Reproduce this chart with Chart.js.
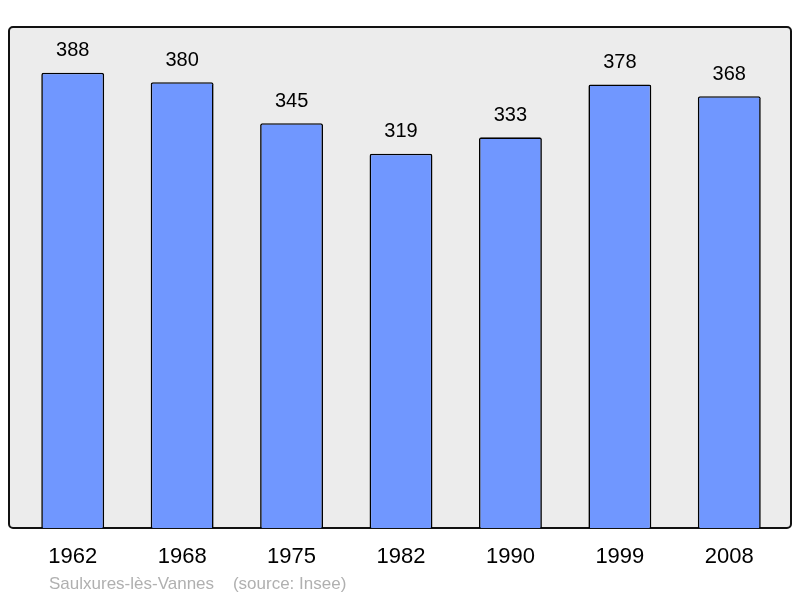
<!DOCTYPE html>
<html lang="fr">
<head>
    <meta charset="UTF-8">
    <title>Saulxures-lès-Vannes</title>
    <style>
        body {
            margin: 0;
            padding: 0;
            background: #fff;
            overflow: hidden;
        }
        #wrap {
            width: 800px;
            height: 598px;
        }
    </style>
</head>
<body>
    <div id="wrap"><canvas id="chart" width="800" height="598"></canvas></div>
    <script src="https://cdn.jsdelivr.net/npm/chart.js@4/dist/chart.umd.min.js"></script>
    <script>
        const years = ['1962', '1968', '1975', '1982', '1990', '1999', '2008'];
        const population = [388, 380, 345, 319, 333, 378, 368];
        const yMax = 427;
        const footer = 'Saulxures-lès-Vannes    (source: Insee)';

        const fontFamily = '"Liberation Sans", Arial, sans-serif';

        // grey frame behind the bars, then labels on top
        const frame = {
            id: 'frame',
            beforeDraw(chart) {
                const c = chart.ctx;
                const a = chart.chartArea;
                const x0 = 9, x1 = 791, y0 = a.top, y1 = a.bottom;
                c.save();
                c.beginPath();
                c.roundRect(x0, y0, x1 - x0, y1 - y0, 4);
                c.fillStyle = '#ececec';
                c.fill();
                c.lineWidth = 2;
                c.strokeStyle = '#111';
                c.stroke();
                c.restore();
            },
            afterDatasetsDraw(chart) {
                const c = chart.ctx;
                const a = chart.chartArea;
                const meta = chart.getDatasetMeta(0);
                c.save();
                c.textAlign = 'center';
                c.textBaseline = 'middle';
                c.fillStyle = '#000';
                c.font = '20px ' + fontFamily;
                meta.data.forEach((bar, i) => {
                    c.fillText(String(population[i]), bar.x, bar.y - 22);
                });
                c.font = '22px ' + fontFamily;
                meta.data.forEach((bar, i) => {
                    c.fillText(years[i], bar.x, a.bottom + 29);
                });
                c.textAlign = 'left';
                c.font = '17px ' + fontFamily;
                c.fillStyle = '#b0b0b0';
                c.fillText(footer, 49, a.bottom + 56);
                c.restore();
            }
        };

        new Chart(document.getElementById('chart'), {
            type: 'bar',
            data: {
                labels: years,
                datasets: [{
                    data: population,
                    backgroundColor: '#7097ff',
                    borderColor: '#000',
                    borderWidth: 1.6,
                    borderRadius: 2,
                    borderSkipped: 'bottom',
                    barPercentage: 0.575,
                    categoryPercentage: 1
                }]
            },
            options: {
                responsive: false,
                animation: false,
                layout: {
                    padding: { left: 18, right: 16, top: 27, bottom: 70 }
                },
                plugins: {
                    legend: { display: false },
                    tooltip: { enabled: false }
                },
                scales: {
                    x: { display: false },
                    y: { display: false, min: 0, max: yMax }
                }
            },
            plugins: [frame]
        });
    </script>
</body>
</html>
